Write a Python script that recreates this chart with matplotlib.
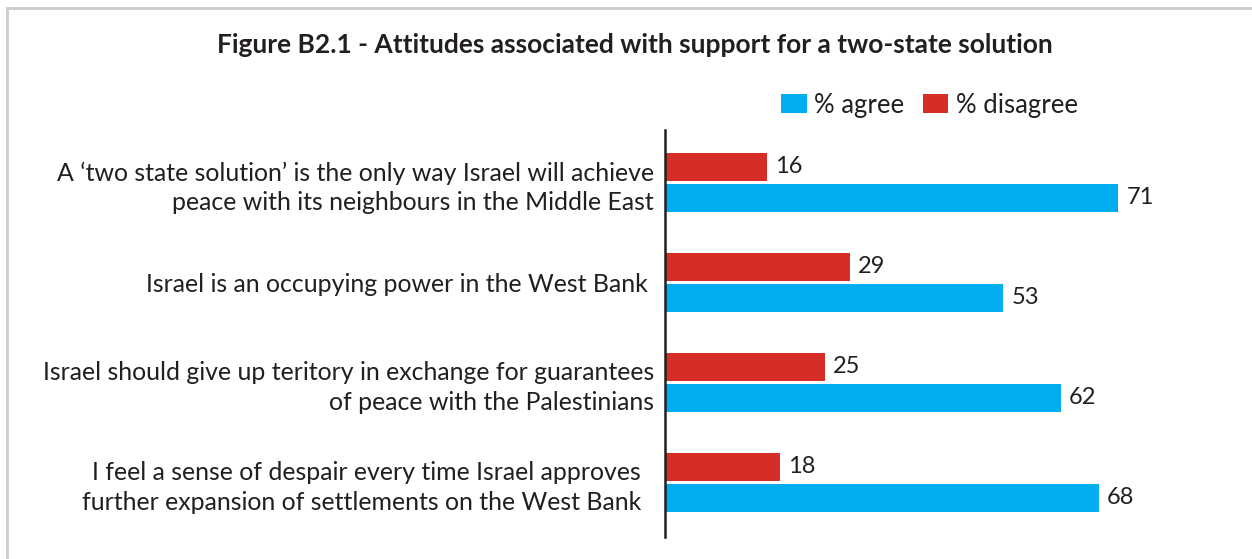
import matplotlib
matplotlib.use("Agg")
import matplotlib.pyplot as plt
from matplotlib.patches import Patch
from matplotlib.lines import Line2D
import numpy as np

plt.rcParams['font.family'] = ['Lato', 'DejaVu Sans']

title = "Figure B2.1 - Attitudes associated with support for a two-state solution"
categories = [
    "A \u2018two state solution\u2019 is the only way Israel will achieve\npeace with its neighbours in the Middle East",
    "Israel is an occupying power in the West Bank ",
    "Israel should give up teritory in exchange for guarantees\nof peace with the Palestinians",
    "I feel a sense of despair every time Israel approves  \nfurther expansion of settlements on the West Bank  ",
]
agree = [71, 53, 62, 68]
disagree = [16, 29, 25, 18]
series_names = ["% agree", "% disagree"]

BLUE = "#00AEEF"
RED = "#D52E27"
TXT = "#231F20"

fig = plt.figure(figsize=(12.52, 5.59), dpi=100)
W, H = 1252, 559
ax = fig.add_axes([665 / W, 1 - 537 / H, 1 - 665 / W, 407 / H])

y = np.arange(len(categories))
bh = 0.28
off = 0.155
b_dis = ax.barh(y - off, disagree, height=bh, color=RED)
b_agr = ax.barh(y + off, agree, height=bh, color=BLUE)
ax.bar_label(b_dis, labels=[str(v) for v in disagree], padding=6, fontsize=17, color=TXT)
ax.bar_label(b_agr, labels=[str(v) for v in agree], padding=6, fontsize=17, color=TXT)

ax.set_xlim(0, 92)
ax.set_ylim(3.55, -0.525)
ax.set_yticks(y)
ax.set_yticklabels(categories, fontsize=17.9, color=TXT, ha='right', linespacing=1.35)
ax.tick_params(axis='y', length=0, pad=8)
ax.set_xticks([])
for s in ['top', 'right', 'bottom']:
    ax.spines[s].set_visible(False)
ax.spines['left'].set_color(TXT)
ax.spines['left'].set_linewidth(1.8)

fig.text(0.507, 1 - 45 / H, title, ha='center', va='center', fontsize=19,
         fontweight='bold', color=TXT)

handles = [Patch(facecolor=BLUE), Patch(facecolor=RED)]
fig.legend(handles, series_names, loc='center right', bbox_to_anchor=(1096 / W, 1 - 105 / H),
           ncol=2, frameon=False, fontsize=18.5, handlelength=1.0, handleheight=0.75,
           columnspacing=0.7, handletextpad=0.3, labelcolor=TXT, borderpad=0.2)

# light frame at top and left
fig.add_artist(Line2D([7 / W, 7 / W], [0, 1 - 8 / H], transform=fig.transFigure, color="#CCCCCC", lw=2))
fig.add_artist(Line2D([7 / W, 1], [1 - 8 / H, 1 - 8 / H], transform=fig.transFigure, color="#CCCCCC", lw=2))

fig.savefig("out.png", dpi=100, facecolor="white")
